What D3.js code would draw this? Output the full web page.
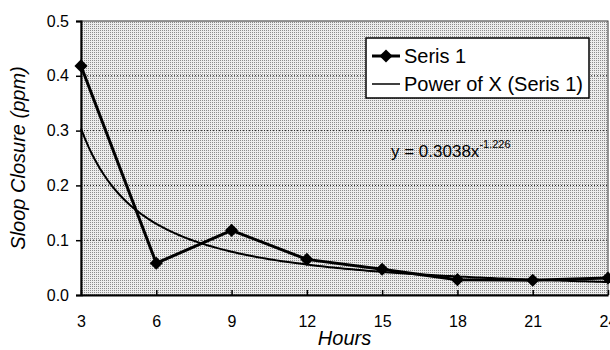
<!DOCTYPE html>
<html>
<head>
<meta charset="utf-8">
<script src="https://cdn.jsdelivr.net/npm/d3@7"></script>
<style>
  html, body { margin: 0; padding: 0; background: #fff; }
  svg { display: block; font-family: Arial, "Liberation Sans", sans-serif; }
</style>
</head>
<body>
<svg id="chart" width="610" height="350"></svg>
<script>
// Sampling hours (categories) and measured sloop closure
const hours = [3, 6, 9, 12, 15, 18, 21, 24];
const closure = [0.418, 0.058, 0.118, 0.065, 0.047, 0.028, 0.027, 0.031];
const yTicks = [0.0, 0.1, 0.2, 0.3, 0.4, 0.5];
// Power trendline y = a * i^b, with i the category index (1..n)
const trendA = 0.3038;
const trendB = -1.226;
const seriesName = "Seris 1";
const trendName = "Power of X (Seris 1)";

const svg = d3.select("#chart");
const plotL = 81, plotR = 608, plotT = 21, plotB = 295;

const x = d3.scaleLinear().domain([3, 24]).range([plotL, plotR]);
const y = d3.scaleLinear().domain([0, 0.5]).range([plotB, plotT]);

// Halftone plot background
const defs = svg.append("defs");
const pat = defs.append("pattern").attr("id", "halftone")
  .attr("width", 2).attr("height", 2).attr("patternUnits", "userSpaceOnUse");
pat.append("rect").attr("width", 2).attr("height", 2).attr("fill", "#ededed");
pat.append("rect").attr("width", 1).attr("height", 1).attr("fill", "#8c8c8c");

svg.append("rect")
  .attr("x", plotL).attr("y", plotT)
  .attr("width", plotR - plotL).attr("height", plotB - plotT)
  .attr("fill", "url(#halftone)")
  .attr("stroke", "#333").attr("stroke-width", 1);

// Dotted horizontal gridlines
svg.append("g").selectAll("line")
  .data(yTicks.filter(v => v > 0 && v < 0.5))
  .join("line")
  .attr("x1", plotL).attr("x2", plotR)
  .attr("y1", d => y(d)).attr("y2", d => y(d))
  .attr("stroke", "#222").attr("stroke-width", 1)
  .attr("stroke-dasharray", "1,2");

// Y axis
const yAxis = d3.axisLeft(y).tickValues(yTicks).tickFormat(d3.format(".1f"))
  .tickSize(5).tickPadding(7);
const gy = svg.append("g").attr("transform", `translate(${plotL},0)`).call(yAxis);
gy.select(".domain").attr("stroke", "#000").attr("stroke-width", 2);
gy.selectAll(".tick line").attr("stroke", "#000").attr("stroke-width", 1.5);
gy.selectAll("text").attr("font-size", 16).attr("fill", "#000");

// X axis (ticks point into the plot)
const xAxis = d3.axisBottom(x).tickValues(hours).tickSizeInner(-5).tickSizeOuter(0)
  .tickPadding(21);
const gx = svg.append("g").attr("transform", `translate(0,${plotB})`).call(xAxis);
gx.select(".domain").attr("stroke", "#000").attr("stroke-width", 2);
gx.selectAll(".tick line").attr("stroke", "#000").attr("stroke-width", 1.5);
gx.selectAll("text").attr("font-size", 16).attr("fill", "#000");

// Power trendline drawn from its fitted equation
const idx = d3.range(0, hours.length - 1 + 1e-9, 0.05);
const trendPts = idx.map(t => [hours[0] + t * (hours[1] - hours[0]), trendA * Math.pow(t + 1, trendB)]);
svg.append("path")
  .datum(trendPts)
  .attr("fill", "none").attr("stroke", "#000").attr("stroke-width", 2)
  .attr("d", d3.line().x(d => x(d[0])).y(d => y(d[1])));

// Measured series with diamond markers
const pts = hours.map((h, i) => [h, closure[i]]);
svg.append("path")
  .datum(pts)
  .attr("fill", "none").attr("stroke", "#000").attr("stroke-width", 3)
  .attr("d", d3.line().x(d => x(d[0])).y(d => y(d[1])));

const diamond = d3.symbol().type(d3.symbolDiamond2).size(110);
svg.append("g").selectAll("path")
  .data(pts)
  .join("path")
  .attr("transform", d => `translate(${x(d[0])},${y(d[1])})`)
  .attr("d", diamond)
  .attr("fill", "#000");

// Fitted equation label
const eq = svg.append("text").attr("x", 391).attr("y", 157)
  .attr("font-size", 17).attr("fill", "#000");
eq.append("tspan").text(`y = ${trendA}x`);
eq.append("tspan").attr("dy", -9).attr("font-size", 11).text(String(trendB));

// Legend
const lg = svg.append("g");
lg.append("rect").attr("x", 366).attr("y", 38).attr("width", 223).attr("height", 60)
  .attr("fill", "#fff").attr("stroke", "#000").attr("stroke-width", 1.5);
lg.append("line").attr("x1", 372).attr("x2", 400).attr("y1", 56).attr("y2", 56)
  .attr("stroke", "#000").attr("stroke-width", 3);
lg.append("path").attr("transform", "translate(386,56)").attr("d", diamond).attr("fill", "#000");
lg.append("text").attr("x", 404).attr("y", 63).attr("font-size", 20).text(seriesName);
lg.append("line").attr("x1", 372).attr("x2", 400).attr("y1", 84).attr("y2", 84)
  .attr("stroke", "#000").attr("stroke-width", 1.5);
lg.append("text").attr("x", 404).attr("y", 91).attr("font-size", 20).text(trendName);

// Axis titles
svg.append("text")
  .attr("transform", `translate(25,${(plotT + plotB) / 2}) rotate(-90)`)
  .attr("text-anchor", "middle").attr("font-size", 20).attr("font-style", "italic")
  .text("Sloop Closure (ppm)");
svg.append("text")
  .attr("x", (plotL + plotR) / 2).attr("y", 345)
  .attr("text-anchor", "middle").attr("font-size", 20).attr("font-style", "italic")
  .text("Hours");
</script>
</body>
</html>
